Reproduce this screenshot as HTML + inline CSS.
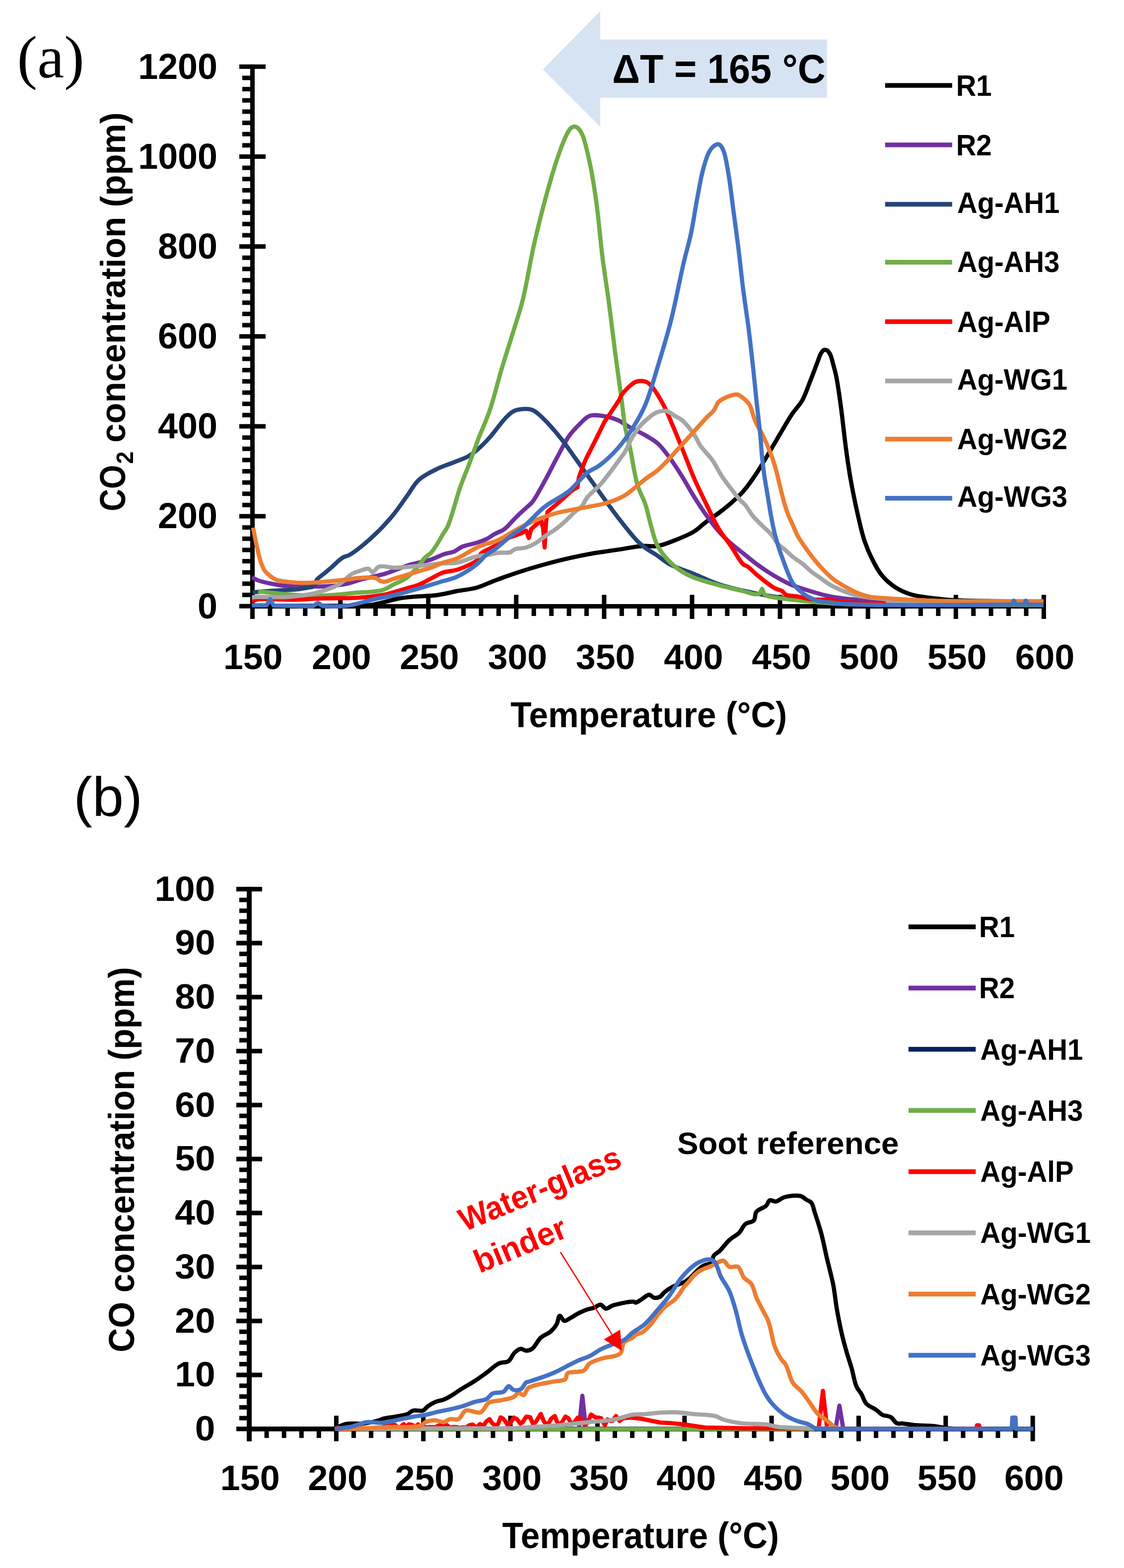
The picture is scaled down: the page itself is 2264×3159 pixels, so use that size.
<!DOCTYPE html>
<html><head><meta charset="utf-8"><title>CO2 and CO concentration vs temperature</title>
<style>html,body{margin:0;padding:0;background:#fff;}svg{display:block;}</style>
</head><body>
<svg xmlns="http://www.w3.org/2000/svg" width="2264" height="3159" viewBox="0 0 2264 3159">
<rect width="100%" height="100%" fill="#fff"/>
<rect x="504.00" y="129.80" width="9.00" height="1117.00" fill="#000"/>
<rect x="482.00" y="1216.70" width="53.00" height="9.00" fill="#000"/>
<rect x="482.00" y="1035.55" width="53.00" height="9.00" fill="#000"/>
<rect x="482.00" y="854.40" width="53.00" height="9.00" fill="#000"/>
<rect x="482.00" y="673.25" width="53.00" height="9.00" fill="#000"/>
<rect x="482.00" y="492.10" width="53.00" height="9.00" fill="#000"/>
<rect x="482.00" y="310.95" width="53.00" height="9.00" fill="#000"/>
<rect x="482.00" y="129.80" width="53.00" height="9.00" fill="#000"/>
<rect x="488.00" y="1194.06" width="16.00" height="9.00" fill="#000"/>
<rect x="488.00" y="1171.41" width="16.00" height="9.00" fill="#000"/>
<rect x="488.00" y="1148.77" width="16.00" height="9.00" fill="#000"/>
<rect x="488.00" y="1126.12" width="16.00" height="9.00" fill="#000"/>
<rect x="488.00" y="1103.48" width="16.00" height="9.00" fill="#000"/>
<rect x="488.00" y="1080.84" width="16.00" height="9.00" fill="#000"/>
<rect x="488.00" y="1058.19" width="16.00" height="9.00" fill="#000"/>
<rect x="488.00" y="1012.91" width="16.00" height="9.00" fill="#000"/>
<rect x="488.00" y="990.26" width="16.00" height="9.00" fill="#000"/>
<rect x="488.00" y="967.62" width="16.00" height="9.00" fill="#000"/>
<rect x="488.00" y="944.98" width="16.00" height="9.00" fill="#000"/>
<rect x="488.00" y="922.33" width="16.00" height="9.00" fill="#000"/>
<rect x="488.00" y="899.69" width="16.00" height="9.00" fill="#000"/>
<rect x="488.00" y="877.04" width="16.00" height="9.00" fill="#000"/>
<rect x="488.00" y="831.76" width="16.00" height="9.00" fill="#000"/>
<rect x="488.00" y="809.11" width="16.00" height="9.00" fill="#000"/>
<rect x="488.00" y="786.47" width="16.00" height="9.00" fill="#000"/>
<rect x="488.00" y="763.83" width="16.00" height="9.00" fill="#000"/>
<rect x="488.00" y="741.18" width="16.00" height="9.00" fill="#000"/>
<rect x="488.00" y="718.54" width="16.00" height="9.00" fill="#000"/>
<rect x="488.00" y="695.89" width="16.00" height="9.00" fill="#000"/>
<rect x="488.00" y="650.61" width="16.00" height="9.00" fill="#000"/>
<rect x="488.00" y="627.96" width="16.00" height="9.00" fill="#000"/>
<rect x="488.00" y="605.32" width="16.00" height="9.00" fill="#000"/>
<rect x="488.00" y="582.67" width="16.00" height="9.00" fill="#000"/>
<rect x="488.00" y="560.03" width="16.00" height="9.00" fill="#000"/>
<rect x="488.00" y="537.39" width="16.00" height="9.00" fill="#000"/>
<rect x="488.00" y="514.74" width="16.00" height="9.00" fill="#000"/>
<rect x="488.00" y="469.46" width="16.00" height="9.00" fill="#000"/>
<rect x="488.00" y="446.81" width="16.00" height="9.00" fill="#000"/>
<rect x="488.00" y="424.17" width="16.00" height="9.00" fill="#000"/>
<rect x="488.00" y="401.52" width="16.00" height="9.00" fill="#000"/>
<rect x="488.00" y="378.88" width="16.00" height="9.00" fill="#000"/>
<rect x="488.00" y="356.24" width="16.00" height="9.00" fill="#000"/>
<rect x="488.00" y="333.59" width="16.00" height="9.00" fill="#000"/>
<rect x="488.00" y="288.31" width="16.00" height="9.00" fill="#000"/>
<rect x="488.00" y="265.66" width="16.00" height="9.00" fill="#000"/>
<rect x="488.00" y="243.02" width="16.00" height="9.00" fill="#000"/>
<rect x="488.00" y="220.38" width="16.00" height="9.00" fill="#000"/>
<rect x="488.00" y="197.73" width="16.00" height="9.00" fill="#000"/>
<rect x="488.00" y="175.09" width="16.00" height="9.00" fill="#000"/>
<rect x="488.00" y="152.44" width="16.00" height="9.00" fill="#000"/>
<rect x="504.00" y="1217.00" width="1602.80" height="9.00" fill="#000"/>
<rect x="504.00" y="1198.40" width="9.00" height="48.50" fill="#000"/>
<rect x="681.10" y="1198.40" width="9.00" height="48.50" fill="#000"/>
<rect x="858.20" y="1198.40" width="9.00" height="48.50" fill="#000"/>
<rect x="1035.30" y="1198.40" width="9.00" height="48.50" fill="#000"/>
<rect x="1212.40" y="1198.40" width="9.00" height="48.50" fill="#000"/>
<rect x="1389.50" y="1198.40" width="9.00" height="48.50" fill="#000"/>
<rect x="1566.60" y="1198.40" width="9.00" height="48.50" fill="#000"/>
<rect x="1743.70" y="1198.40" width="9.00" height="48.50" fill="#000"/>
<rect x="1920.80" y="1198.40" width="9.00" height="48.50" fill="#000"/>
<rect x="2097.90" y="1198.40" width="9.00" height="48.50" fill="#000"/>
<rect x="539.42" y="1217.00" width="9.00" height="24.00" fill="#000"/>
<rect x="574.84" y="1217.00" width="9.00" height="24.00" fill="#000"/>
<rect x="610.26" y="1217.00" width="9.00" height="24.00" fill="#000"/>
<rect x="645.68" y="1217.00" width="9.00" height="24.00" fill="#000"/>
<rect x="716.52" y="1217.00" width="9.00" height="24.00" fill="#000"/>
<rect x="751.94" y="1217.00" width="9.00" height="24.00" fill="#000"/>
<rect x="787.36" y="1217.00" width="9.00" height="24.00" fill="#000"/>
<rect x="822.78" y="1217.00" width="9.00" height="24.00" fill="#000"/>
<rect x="893.62" y="1217.00" width="9.00" height="24.00" fill="#000"/>
<rect x="929.04" y="1217.00" width="9.00" height="24.00" fill="#000"/>
<rect x="964.46" y="1217.00" width="9.00" height="24.00" fill="#000"/>
<rect x="999.88" y="1217.00" width="9.00" height="24.00" fill="#000"/>
<rect x="1070.72" y="1217.00" width="9.00" height="24.00" fill="#000"/>
<rect x="1106.14" y="1217.00" width="9.00" height="24.00" fill="#000"/>
<rect x="1141.56" y="1217.00" width="9.00" height="24.00" fill="#000"/>
<rect x="1176.98" y="1217.00" width="9.00" height="24.00" fill="#000"/>
<rect x="1247.82" y="1217.00" width="9.00" height="24.00" fill="#000"/>
<rect x="1283.24" y="1217.00" width="9.00" height="24.00" fill="#000"/>
<rect x="1318.66" y="1217.00" width="9.00" height="24.00" fill="#000"/>
<rect x="1354.08" y="1217.00" width="9.00" height="24.00" fill="#000"/>
<rect x="1424.92" y="1217.00" width="9.00" height="24.00" fill="#000"/>
<rect x="1460.34" y="1217.00" width="9.00" height="24.00" fill="#000"/>
<rect x="1495.76" y="1217.00" width="9.00" height="24.00" fill="#000"/>
<rect x="1531.18" y="1217.00" width="9.00" height="24.00" fill="#000"/>
<rect x="1602.02" y="1217.00" width="9.00" height="24.00" fill="#000"/>
<rect x="1637.44" y="1217.00" width="9.00" height="24.00" fill="#000"/>
<rect x="1672.86" y="1217.00" width="9.00" height="24.00" fill="#000"/>
<rect x="1708.28" y="1217.00" width="9.00" height="24.00" fill="#000"/>
<rect x="1779.12" y="1217.00" width="9.00" height="24.00" fill="#000"/>
<rect x="1814.54" y="1217.00" width="9.00" height="24.00" fill="#000"/>
<rect x="1849.96" y="1217.00" width="9.00" height="24.00" fill="#000"/>
<rect x="1885.38" y="1217.00" width="9.00" height="24.00" fill="#000"/>
<rect x="1956.22" y="1217.00" width="9.00" height="24.00" fill="#000"/>
<rect x="1991.64" y="1217.00" width="9.00" height="24.00" fill="#000"/>
<rect x="2027.06" y="1217.00" width="9.00" height="24.00" fill="#000"/>
<rect x="2062.48" y="1217.00" width="9.00" height="24.00" fill="#000"/>
<rect x="497.00" y="1786.80" width="10.00" height="1116.70" fill="#000"/>
<rect x="476.00" y="2874.20" width="52.00" height="9.20" fill="#000"/>
<rect x="476.00" y="2765.45" width="52.00" height="9.20" fill="#000"/>
<rect x="476.00" y="2656.70" width="52.00" height="9.20" fill="#000"/>
<rect x="476.00" y="2547.95" width="52.00" height="9.20" fill="#000"/>
<rect x="476.00" y="2439.20" width="52.00" height="9.20" fill="#000"/>
<rect x="476.00" y="2330.45" width="52.00" height="9.20" fill="#000"/>
<rect x="476.00" y="2221.70" width="52.00" height="9.20" fill="#000"/>
<rect x="476.00" y="2112.95" width="52.00" height="9.20" fill="#000"/>
<rect x="476.00" y="2004.20" width="52.00" height="9.20" fill="#000"/>
<rect x="476.00" y="1895.45" width="52.00" height="9.20" fill="#000"/>
<rect x="476.00" y="1786.70" width="52.00" height="9.20" fill="#000"/>
<rect x="482.00" y="2852.55" width="15.50" height="9.00" fill="#000"/>
<rect x="482.00" y="2830.80" width="15.50" height="9.00" fill="#000"/>
<rect x="482.00" y="2809.05" width="15.50" height="9.00" fill="#000"/>
<rect x="482.00" y="2787.30" width="15.50" height="9.00" fill="#000"/>
<rect x="482.00" y="2743.80" width="15.50" height="9.00" fill="#000"/>
<rect x="482.00" y="2722.05" width="15.50" height="9.00" fill="#000"/>
<rect x="482.00" y="2700.30" width="15.50" height="9.00" fill="#000"/>
<rect x="482.00" y="2678.55" width="15.50" height="9.00" fill="#000"/>
<rect x="482.00" y="2635.05" width="15.50" height="9.00" fill="#000"/>
<rect x="482.00" y="2613.30" width="15.50" height="9.00" fill="#000"/>
<rect x="482.00" y="2591.55" width="15.50" height="9.00" fill="#000"/>
<rect x="482.00" y="2569.80" width="15.50" height="9.00" fill="#000"/>
<rect x="482.00" y="2526.30" width="15.50" height="9.00" fill="#000"/>
<rect x="482.00" y="2504.55" width="15.50" height="9.00" fill="#000"/>
<rect x="482.00" y="2482.80" width="15.50" height="9.00" fill="#000"/>
<rect x="482.00" y="2461.05" width="15.50" height="9.00" fill="#000"/>
<rect x="482.00" y="2417.55" width="15.50" height="9.00" fill="#000"/>
<rect x="482.00" y="2395.80" width="15.50" height="9.00" fill="#000"/>
<rect x="482.00" y="2374.05" width="15.50" height="9.00" fill="#000"/>
<rect x="482.00" y="2352.30" width="15.50" height="9.00" fill="#000"/>
<rect x="482.00" y="2308.80" width="15.50" height="9.00" fill="#000"/>
<rect x="482.00" y="2287.05" width="15.50" height="9.00" fill="#000"/>
<rect x="482.00" y="2265.30" width="15.50" height="9.00" fill="#000"/>
<rect x="482.00" y="2243.55" width="15.50" height="9.00" fill="#000"/>
<rect x="482.00" y="2200.05" width="15.50" height="9.00" fill="#000"/>
<rect x="482.00" y="2178.30" width="15.50" height="9.00" fill="#000"/>
<rect x="482.00" y="2156.55" width="15.50" height="9.00" fill="#000"/>
<rect x="482.00" y="2134.80" width="15.50" height="9.00" fill="#000"/>
<rect x="482.00" y="2091.30" width="15.50" height="9.00" fill="#000"/>
<rect x="482.00" y="2069.55" width="15.50" height="9.00" fill="#000"/>
<rect x="482.00" y="2047.80" width="15.50" height="9.00" fill="#000"/>
<rect x="482.00" y="2026.05" width="15.50" height="9.00" fill="#000"/>
<rect x="482.00" y="1982.55" width="15.50" height="9.00" fill="#000"/>
<rect x="482.00" y="1960.80" width="15.50" height="9.00" fill="#000"/>
<rect x="482.00" y="1939.05" width="15.50" height="9.00" fill="#000"/>
<rect x="482.00" y="1917.30" width="15.50" height="9.00" fill="#000"/>
<rect x="482.00" y="1873.80" width="15.50" height="9.00" fill="#000"/>
<rect x="482.00" y="1852.05" width="15.50" height="9.00" fill="#000"/>
<rect x="482.00" y="1830.30" width="15.50" height="9.00" fill="#000"/>
<rect x="482.00" y="1808.55" width="15.50" height="9.00" fill="#000"/>
<rect x="497.00" y="2874.00" width="1587.80" height="9.70" fill="#000"/>
<rect x="497.50" y="2852.20" width="9.00" height="51.40" fill="#000"/>
<rect x="672.86" y="2852.20" width="9.00" height="51.40" fill="#000"/>
<rect x="848.21" y="2852.20" width="9.00" height="51.40" fill="#000"/>
<rect x="1023.57" y="2852.20" width="9.00" height="51.40" fill="#000"/>
<rect x="1198.92" y="2852.20" width="9.00" height="51.40" fill="#000"/>
<rect x="1374.28" y="2852.20" width="9.00" height="51.40" fill="#000"/>
<rect x="1549.63" y="2852.20" width="9.00" height="51.40" fill="#000"/>
<rect x="1724.99" y="2852.20" width="9.00" height="51.40" fill="#000"/>
<rect x="1900.34" y="2852.20" width="9.00" height="51.40" fill="#000"/>
<rect x="2075.70" y="2852.20" width="9.00" height="51.40" fill="#000"/>
<rect x="532.57" y="2874.00" width="9.00" height="23.00" fill="#000"/>
<rect x="567.64" y="2874.00" width="9.00" height="23.00" fill="#000"/>
<rect x="602.71" y="2874.00" width="9.00" height="23.00" fill="#000"/>
<rect x="637.78" y="2874.00" width="9.00" height="23.00" fill="#000"/>
<rect x="707.93" y="2874.00" width="9.00" height="23.00" fill="#000"/>
<rect x="743.00" y="2874.00" width="9.00" height="23.00" fill="#000"/>
<rect x="778.07" y="2874.00" width="9.00" height="23.00" fill="#000"/>
<rect x="813.14" y="2874.00" width="9.00" height="23.00" fill="#000"/>
<rect x="883.28" y="2874.00" width="9.00" height="23.00" fill="#000"/>
<rect x="918.35" y="2874.00" width="9.00" height="23.00" fill="#000"/>
<rect x="953.42" y="2874.00" width="9.00" height="23.00" fill="#000"/>
<rect x="988.50" y="2874.00" width="9.00" height="23.00" fill="#000"/>
<rect x="1058.64" y="2874.00" width="9.00" height="23.00" fill="#000"/>
<rect x="1093.71" y="2874.00" width="9.00" height="23.00" fill="#000"/>
<rect x="1128.78" y="2874.00" width="9.00" height="23.00" fill="#000"/>
<rect x="1163.85" y="2874.00" width="9.00" height="23.00" fill="#000"/>
<rect x="1233.99" y="2874.00" width="9.00" height="23.00" fill="#000"/>
<rect x="1269.06" y="2874.00" width="9.00" height="23.00" fill="#000"/>
<rect x="1304.14" y="2874.00" width="9.00" height="23.00" fill="#000"/>
<rect x="1339.21" y="2874.00" width="9.00" height="23.00" fill="#000"/>
<rect x="1409.35" y="2874.00" width="9.00" height="23.00" fill="#000"/>
<rect x="1444.42" y="2874.00" width="9.00" height="23.00" fill="#000"/>
<rect x="1479.49" y="2874.00" width="9.00" height="23.00" fill="#000"/>
<rect x="1514.56" y="2874.00" width="9.00" height="23.00" fill="#000"/>
<rect x="1584.70" y="2874.00" width="9.00" height="23.00" fill="#000"/>
<rect x="1619.78" y="2874.00" width="9.00" height="23.00" fill="#000"/>
<rect x="1654.85" y="2874.00" width="9.00" height="23.00" fill="#000"/>
<rect x="1689.92" y="2874.00" width="9.00" height="23.00" fill="#000"/>
<rect x="1760.06" y="2874.00" width="9.00" height="23.00" fill="#000"/>
<rect x="1795.13" y="2874.00" width="9.00" height="23.00" fill="#000"/>
<rect x="1830.20" y="2874.00" width="9.00" height="23.00" fill="#000"/>
<rect x="1865.27" y="2874.00" width="9.00" height="23.00" fill="#000"/>
<rect x="1935.42" y="2874.00" width="9.00" height="23.00" fill="#000"/>
<rect x="1970.49" y="2874.00" width="9.00" height="23.00" fill="#000"/>
<rect x="2005.56" y="2874.00" width="9.00" height="23.00" fill="#000"/>
<rect x="2040.63" y="2874.00" width="9.00" height="23.00" fill="#000"/>
<path d="M508.0,1220.6 C538.7,1220.6 568.7,1220.6 600.0,1220.6 C632.6,1220.6 673.1,1220.7 700.0,1220.3 C718.3,1220.0 729.8,1221.1 746.0,1219.0 C764.8,1216.6 788.3,1208.1 806.0,1205.2 C819.7,1202.9 830.7,1202.5 843.0,1201.5 C855.3,1200.5 867.5,1200.7 880.0,1199.0 C893.1,1197.3 906.7,1193.5 920.0,1191.0 C933.3,1188.5 947.0,1187.6 960.0,1184.0 C973.1,1180.3 984.8,1174.1 998.5,1169.0 C1013.9,1163.3 1031.2,1157.0 1047.7,1151.7 C1064.1,1146.4 1080.5,1141.5 1097.0,1137.0 C1113.3,1132.5 1129.6,1128.3 1146.0,1124.6 C1162.3,1120.9 1178.5,1117.7 1195.0,1114.8 C1211.5,1111.9 1228.4,1109.9 1245.0,1107.4 C1261.4,1104.9 1279.5,1101.1 1294.0,1100.0 C1305.4,1099.1 1314.1,1101.7 1324.6,1100.0 C1336.5,1098.1 1349.3,1092.5 1361.5,1087.7 C1374.0,1082.7 1387.8,1077.2 1398.5,1070.5 C1407.9,1064.7 1414.7,1057.0 1423.0,1050.8 C1431.1,1044.7 1439.6,1039.6 1447.7,1033.5 C1456.0,1027.3 1464.3,1020.9 1472.3,1013.8 C1480.7,1006.4 1489.1,998.9 1497.0,990.0 C1505.6,980.2 1513.6,968.7 1521.5,957.0 C1530.0,944.5 1538.1,930.5 1546.2,917.0 C1554.5,903.2 1562.6,888.9 1570.8,875.0 C1579.0,861.3 1587.3,846.3 1595.4,834.2 C1602.2,824.0 1609.9,817.2 1615.7,807.0 C1622.1,795.8 1626.3,782.2 1631.4,769.3 C1636.7,756.0 1643.0,738.9 1647.0,728.5 C1649.5,722.1 1650.6,717.2 1653.0,713.0 C1654.9,709.7 1657.1,705.9 1659.6,705.0 C1661.6,704.3 1664.1,704.9 1666.0,706.0 C1668.4,707.4 1670.4,710.6 1672.2,714.0 C1674.7,718.8 1676.1,726.1 1678.0,733.0 C1680.3,741.2 1682.5,749.0 1684.7,759.9 C1688.0,776.4 1691.2,800.5 1694.2,822.6 C1697.5,847.3 1700.3,876.3 1703.6,901.0 C1706.6,923.1 1709.4,943.0 1713.0,963.9 C1716.7,984.9 1720.8,1005.7 1725.5,1026.6 C1730.2,1047.6 1735.2,1071.3 1741.2,1089.4 C1746.0,1103.7 1751.0,1115.2 1757.0,1127.0 C1762.6,1138.2 1768.0,1149.1 1775.8,1158.5 C1783.7,1168.0 1793.8,1177.0 1804.0,1183.6 C1813.7,1189.9 1823.6,1194.1 1835.4,1197.7 C1849.3,1201.9 1868.3,1203.6 1882.5,1205.5 C1894.0,1207.0 1900.9,1207.9 1914.0,1208.7 C1935.6,1210.1 1970.1,1210.5 2000.0,1211.0 C2032.5,1211.6 2068.0,1211.7 2102.0,1212.0" fill="none" stroke="#000000" stroke-width="8.50" stroke-linejoin="round" stroke-linecap="butt"/>
<path d="M507.4,1162.8 C511.6,1165.0 515.0,1167.5 520.0,1169.4 C526.7,1171.9 536.4,1173.8 544.6,1175.5 C552.8,1177.2 561.0,1178.9 569.2,1179.8 C577.4,1180.7 585.6,1180.8 593.8,1181.0 C602.0,1181.2 610.3,1180.9 618.5,1181.0 C626.7,1181.1 634.8,1181.8 643.0,1181.7 C651.2,1181.6 659.5,1181.2 667.7,1180.5 C675.9,1179.8 685.8,1178.5 692.3,1177.4 C696.7,1176.6 698.8,1176.2 703.2,1175.0 C710.0,1173.2 721.2,1169.1 729.0,1167.0 C735.3,1165.3 739.6,1164.6 746.2,1163.0 C755.0,1160.9 767.6,1158.3 777.0,1155.4 C785.3,1152.9 792.3,1149.8 800.0,1147.0 C807.7,1144.2 815.3,1140.8 823.0,1138.5 C830.6,1136.2 838.3,1134.9 846.0,1133.0 C853.7,1131.1 861.5,1129.6 869.2,1127.0 C877.2,1124.3 885.1,1119.7 893.0,1117.0 C900.5,1114.4 908.8,1113.6 915.4,1110.8 C921.2,1108.3 924.6,1104.1 930.8,1101.5 C938.8,1098.1 951.4,1096.2 960.0,1093.5 C966.9,1091.3 972.5,1089.6 978.5,1086.7 C984.8,1083.7 990.8,1079.0 997.0,1075.6 C1003.1,1072.2 1009.7,1070.5 1015.6,1066.3 C1022.2,1061.6 1028.5,1053.3 1034.0,1047.8 C1038.5,1043.3 1042.1,1039.5 1046.4,1035.4 C1050.8,1031.2 1055.6,1027.1 1060.0,1023.0 C1064.2,1019.1 1067.9,1016.9 1072.3,1011.4 C1079.7,1002.1 1089.0,983.9 1097.0,969.5 C1105.4,954.5 1113.2,938.1 1121.5,922.8 C1129.6,907.8 1137.8,890.4 1146.2,878.5 C1152.6,869.4 1158.8,863.1 1165.8,856.3 C1172.7,849.6 1179.3,840.8 1188.0,837.8 C1197.2,834.7 1210.1,837.3 1220.0,839.0 C1228.8,840.5 1236.6,843.0 1244.6,846.5 C1253.0,850.2 1260.5,856.4 1269.2,861.2 C1278.8,866.5 1290.4,871.4 1300.0,877.0 C1308.8,882.1 1316.9,886.3 1324.6,893.2 C1333.4,901.1 1341.3,912.2 1349.2,922.8 C1357.7,934.2 1365.8,946.9 1373.8,959.7 C1382.2,973.1 1390.1,988.1 1398.5,1001.5 C1406.5,1014.3 1414.6,1026.8 1423.0,1038.5 C1431.0,1049.7 1439.1,1060.8 1447.7,1070.5 C1455.6,1079.5 1463.9,1087.5 1472.3,1095.0 C1480.3,1102.2 1488.8,1108.2 1497.0,1114.8 C1505.2,1121.4 1513.2,1128.3 1521.5,1134.5 C1529.6,1140.6 1537.9,1146.3 1546.2,1151.7 C1554.3,1157.0 1562.5,1161.9 1570.8,1166.5 C1578.9,1171.0 1586.2,1175.0 1595.4,1178.8 C1606.3,1183.3 1619.9,1187.3 1632.3,1191.0 C1644.5,1194.7 1657.4,1198.5 1669.2,1201.0 C1679.9,1203.3 1688.5,1204.4 1700.0,1205.8 C1714.6,1207.6 1733.3,1208.8 1750.0,1210.0 C1766.7,1211.2 1776.3,1212.2 1800.0,1213.0 C1858.2,1214.9 2001.3,1214.3 2102.0,1215.0" fill="none" stroke="#7030A0" stroke-width="8.50" stroke-linejoin="round" stroke-linecap="butt"/>
<path d="M508.9,1193.5 C518.3,1192.7 527.3,1191.7 537.0,1191.0 C547.4,1190.2 559.2,1189.6 569.2,1189.0 C577.9,1188.5 585.6,1188.6 593.8,1187.8 C602.0,1187.0 611.5,1185.5 618.5,1184.2 C623.7,1183.2 628.7,1183.7 632.0,1181.0 C635.5,1178.2 635.5,1171.4 638.6,1167.4 C641.9,1163.2 647.2,1160.2 651.5,1156.6 C655.8,1153.0 659.4,1150.1 664.5,1145.8 C671.8,1139.6 683.3,1127.4 690.8,1123.0 C695.4,1120.3 698.3,1121.0 703.0,1118.5 C710.6,1114.5 721.5,1106.0 730.8,1098.5 C741.0,1090.3 751.5,1080.8 761.5,1070.8 C772.0,1060.3 782.6,1048.9 792.3,1037.0 C802.1,1025.0 811.1,1011.1 820.0,999.0 C828.2,987.8 834.0,975.6 843.8,966.7 C853.8,957.6 867.3,951.2 879.5,945.2 C891.2,939.4 904.0,935.6 915.2,931.0 C925.3,926.9 935.5,923.7 943.8,919.0 C951.1,914.8 956.4,910.4 962.9,904.8 C970.6,898.1 978.5,890.1 986.7,881.0 C996.6,870.0 1008.5,852.3 1017.6,842.9 C1023.7,836.6 1027.8,831.8 1034.3,828.6 C1041.1,825.3 1051.1,824.0 1058.0,823.8 C1063.4,823.7 1067.9,824.3 1072.3,826.0 C1076.8,827.7 1080.0,830.4 1084.6,834.2 C1091.6,840.0 1101.2,850.0 1109.2,858.8 C1117.6,868.0 1125.8,877.9 1133.8,888.3 C1142.2,899.2 1150.3,911.3 1158.5,922.8 C1166.7,934.3 1174.8,945.7 1183.0,957.2 C1191.2,968.7 1199.5,980.2 1207.7,991.7 C1215.9,1003.2 1224.0,1014.8 1232.3,1026.0 C1240.4,1037.0 1248.5,1047.6 1257.0,1058.2 C1265.7,1069.0 1275.9,1082.0 1284.0,1090.2 C1289.8,1096.0 1293.9,1099.5 1300.0,1104.0 C1307.2,1109.3 1316.5,1114.2 1324.6,1119.7 C1332.9,1125.2 1339.2,1131.6 1349.2,1137.0 C1362.5,1144.2 1382.1,1149.9 1398.5,1156.6 C1414.9,1163.3 1431.1,1171.4 1447.7,1177.0 C1463.9,1182.5 1480.5,1186.2 1497.0,1190.0 C1513.4,1193.8 1529.6,1197.1 1546.2,1200.0 C1563.1,1202.9 1577.6,1205.1 1597.7,1207.4 C1626.0,1210.6 1654.6,1213.7 1700.0,1215.7 C1789.8,1219.7 1968.0,1217.9 2102.0,1219.0" fill="none" stroke="#264478" stroke-width="8.50" stroke-linejoin="round" stroke-linecap="butt"/>
<path d="M520.0,1191.5 C528.2,1192.3 535.6,1193.1 544.6,1194.0 C555.7,1195.1 567.6,1196.7 581.5,1197.7 C599.4,1199.0 621.4,1200.6 643.0,1200.2 C667.2,1199.7 697.2,1196.0 720.0,1194.0 C738.2,1192.4 755.9,1193.0 769.2,1189.2 C779.1,1186.4 785.6,1181.1 793.8,1177.0 C802.0,1172.9 810.7,1170.2 818.5,1164.6 C827.2,1158.3 836.4,1147.5 843.0,1140.0 C848.0,1134.3 851.0,1128.5 855.4,1124.0 C859.3,1120.1 863.9,1118.2 867.7,1114.2 C872.2,1109.5 876.0,1103.1 880.0,1097.0 C884.3,1090.4 888.4,1082.5 892.3,1076.0 C895.7,1070.3 898.5,1067.6 902.0,1060.0 C909.3,1043.9 919.1,1003.7 927.1,981.0 C933.3,963.5 939.1,950.6 945.0,935.0 C951.1,918.9 956.4,902.9 962.9,885.7 C970.1,866.7 979.3,847.9 986.7,826.2 C995.3,801.0 1002.4,770.0 1010.5,742.9 C1018.3,716.9 1026.9,690.9 1034.3,666.7 C1041.0,644.8 1047.0,628.0 1053.0,604.0 C1060.9,572.6 1067.3,529.6 1075.4,493.8 C1083.2,459.4 1091.7,425.1 1100.5,393.3 C1108.5,364.2 1117.8,332.5 1125.6,310.4 C1130.9,295.3 1136.1,282.0 1140.7,272.7 C1143.6,266.9 1145.8,261.9 1149.0,259.0 C1151.4,256.8 1154.3,255.1 1157.0,255.1 C1159.7,255.1 1162.6,256.8 1165.0,259.0 C1168.2,261.9 1170.7,266.3 1173.4,272.7 C1178.7,285.1 1184.0,309.9 1188.4,330.5 C1193.4,353.9 1197.1,378.2 1201.0,405.9 C1205.7,439.7 1209.1,483.7 1213.6,519.0 C1217.6,550.2 1222.0,576.6 1226.1,606.9 C1230.4,639.3 1234.4,674.6 1238.7,707.4 C1242.8,738.9 1247.6,772.1 1251.3,799.8 C1254.3,822.3 1256.0,842.8 1259.4,861.2 C1262.2,876.5 1265.7,887.1 1269.2,903.0 C1273.8,924.1 1277.8,956.4 1284.0,977.0 C1288.6,992.4 1295.4,1002.5 1300.0,1016.3 C1304.9,1031.0 1308.0,1048.4 1312.3,1063.0 C1316.2,1076.1 1318.5,1088.6 1324.6,1100.0 C1330.8,1111.6 1340.4,1123.1 1349.2,1132.0 C1357.0,1139.9 1365.3,1146.3 1373.8,1151.7 C1381.8,1156.8 1388.7,1160.1 1398.5,1164.0 C1411.9,1169.3 1431.2,1174.3 1447.7,1178.8 C1464.1,1183.3 1483.4,1187.6 1497.0,1191.0 C1506.6,1193.4 1515.4,1196.9 1521.5,1197.2 C1525.0,1197.4 1530.0,1196.0 1530.0,1196.0 C1530.0,1196.0 1535.0,1186.2 1535.0,1186.2 C1535.0,1186.2 1540.0,1198.0 1540.0,1198.0 C1540.0,1198.0 1543.0,1200.0 1546.2,1201.0 C1554.7,1203.6 1579.0,1206.3 1595.4,1208.3 C1611.8,1210.3 1627.7,1211.8 1644.6,1213.2 C1662.5,1214.7 1673.0,1216.0 1700.0,1217.0 C1772.5,1219.7 1968.0,1218.3 2102.0,1219.0" fill="none" stroke="#70AD47" stroke-width="8.50" stroke-linejoin="round" stroke-linecap="butt"/>
<path d="M507.4,1210.8 C511.6,1209.7 514.0,1208.2 520.0,1207.5 C534.3,1205.7 571.7,1208.7 593.8,1208.2 C611.9,1207.8 624.8,1206.3 643.0,1205.7 C665.8,1204.9 697.2,1205.7 720.0,1204.3 C738.3,1203.2 752.9,1202.1 769.2,1199.0 C785.8,1195.9 804.9,1189.4 818.5,1185.5 C828.1,1182.8 835.0,1181.4 843.0,1178.2 C851.4,1174.9 859.5,1169.9 867.7,1165.8 C875.9,1161.7 883.6,1156.5 892.3,1153.5 C901.1,1150.5 911.1,1150.6 920.0,1148.0 C928.7,1145.4 937.6,1141.6 945.0,1138.0 C951.3,1134.9 957.9,1132.2 962.0,1128.0 C965.5,1124.3 965.5,1118.6 969.0,1115.0 C972.9,1111.0 980.0,1108.6 985.0,1106.0 C989.3,1103.7 993.0,1102.2 997.0,1100.0 C1001.1,1097.8 1005.3,1095.3 1009.4,1092.8 C1013.5,1090.3 1016.7,1087.3 1021.7,1084.8 C1028.6,1081.4 1040.7,1078.5 1047.7,1075.4 C1052.6,1073.2 1060.0,1069.0 1060.0,1069.0 C1060.0,1069.0 1065.0,1084.0 1065.0,1084.0 C1065.0,1084.0 1070.0,1066.0 1070.0,1066.0 C1070.0,1066.0 1090.0,1048.0 1090.0,1048.0 C1090.0,1048.0 1094.0,1065.0 1094.0,1065.0 C1094.0,1065.0 1097.0,1103.0 1097.0,1103.0 C1097.0,1103.0 1100.0,1050.0 1100.0,1050.0 C1100.0,1050.0 1103.0,1031.0 1103.0,1031.0 C1103.0,1031.0 1109.4,1025.8 1112.9,1022.8 C1117.0,1019.4 1121.7,1015.4 1126.1,1011.6 C1130.6,1007.7 1135.0,1003.6 1139.4,999.7 C1143.8,995.8 1148.3,991.1 1152.6,988.0 C1156.1,985.4 1163.0,982.0 1163.0,982.0 C1163.0,982.0 1166.0,962.0 1166.0,962.0 C1166.0,962.0 1174.6,937.7 1178.8,928.0 C1182.1,920.4 1185.3,914.9 1188.6,908.3 C1191.9,901.7 1195.2,895.2 1198.5,888.6 C1201.8,882.0 1205.0,875.5 1208.3,868.9 C1211.6,862.3 1214.7,855.2 1218.2,849.2 C1221.3,843.8 1224.7,839.4 1228.0,834.5 C1231.3,829.6 1234.6,824.6 1237.9,819.7 C1241.2,814.8 1245.3,809.1 1247.7,804.9 C1249.3,801.9 1249.4,800.0 1251.3,797.0 C1254.4,792.2 1260.9,784.8 1266.0,780.0 C1270.5,775.8 1275.3,771.5 1280.0,769.5 C1283.8,767.8 1287.7,767.4 1291.5,767.5 C1295.3,767.6 1299.6,768.4 1303.0,770.0 C1306.3,771.6 1308.3,773.3 1311.6,777.0 C1318.4,784.6 1329.5,803.0 1337.0,817.0 C1344.5,831.1 1350.4,846.6 1356.6,861.2 C1362.6,875.3 1367.6,887.7 1373.8,903.0 C1381.3,921.5 1390.0,945.1 1398.5,964.6 C1406.4,982.7 1414.7,999.3 1423.0,1016.3 C1431.1,1033.0 1438.9,1050.9 1447.7,1065.5 C1455.4,1078.3 1464.2,1088.2 1472.3,1100.0 C1480.6,1112.1 1490.2,1131.1 1497.0,1137.0 C1500.1,1139.7 1502.2,1138.9 1505.4,1141.0 C1510.6,1144.4 1517.6,1152.2 1523.8,1157.5 C1529.9,1162.7 1536.1,1167.6 1542.3,1172.3 C1548.4,1176.9 1554.8,1182.0 1560.8,1185.2 C1565.8,1187.9 1571.6,1188.3 1575.5,1190.8 C1578.6,1192.8 1579.3,1196.3 1582.9,1198.1 C1588.3,1200.8 1598.6,1200.3 1606.9,1201.8 C1615.8,1203.4 1624.7,1206.3 1634.6,1207.4 C1646.0,1208.7 1660.0,1207.4 1671.5,1208.5 C1681.6,1209.5 1684.9,1211.9 1700.0,1213.2 C1756.3,1217.9 1968.0,1213.7 2102.0,1214.0" fill="none" stroke="#FF0000" stroke-width="8.50" stroke-linejoin="round" stroke-linecap="butt"/>
<path d="M507.4,1203.4 C511.6,1203.1 514.2,1202.8 520.0,1202.6 C532.8,1202.2 562.2,1203.9 581.5,1202.6 C598.9,1201.4 618.8,1198.4 630.8,1196.0 C637.8,1194.6 641.7,1193.2 647.2,1191.5 C652.9,1189.7 658.8,1187.7 664.5,1185.5 C670.3,1183.2 676.5,1181.0 681.7,1178.0 C686.6,1175.1 690.7,1171.5 695.0,1168.0 C699.3,1164.5 702.7,1160.0 707.5,1157.0 C712.6,1153.9 719.1,1151.9 725.0,1150.0 C730.6,1148.2 737.5,1144.8 742.0,1145.8 C745.6,1146.6 747.5,1152.8 750.6,1152.7 C754.5,1152.6 757.8,1143.4 763.5,1141.5 C771.1,1139.0 783.2,1143.7 793.8,1143.7 C805.5,1143.7 819.7,1142.1 830.8,1141.2 C839.8,1140.5 846.4,1139.7 855.4,1138.8 C866.5,1137.7 880.9,1135.8 892.3,1135.0 C902.2,1134.3 910.0,1135.6 920.0,1133.8 C932.2,1131.6 948.2,1123.9 960.0,1121.2 C969.1,1119.1 977.1,1118.8 984.7,1117.5 C991.3,1116.3 996.6,1114.6 1003.2,1113.8 C1010.8,1112.9 1021.8,1114.6 1027.9,1112.6 C1032.0,1111.3 1033.2,1107.9 1037.2,1106.4 C1042.9,1104.2 1052.8,1105.2 1060.0,1103.0 C1067.0,1100.9 1073.4,1097.4 1079.8,1093.6 C1086.6,1089.5 1093.0,1083.7 1099.7,1079.0 C1106.3,1074.4 1113.0,1070.6 1119.5,1065.8 C1126.3,1060.8 1132.8,1055.2 1139.4,1049.3 C1146.3,1043.1 1154.1,1034.5 1160.0,1029.4 C1164.1,1025.9 1167.4,1024.9 1170.8,1021.2 C1175.4,1016.2 1178.2,1007.7 1183.7,1001.0 C1190.2,993.0 1200.8,985.4 1208.3,977.2 C1215.5,969.3 1221.5,961.0 1228.0,952.6 C1234.6,944.0 1242.0,934.0 1247.7,926.0 C1252.3,919.5 1256.1,914.9 1260.0,908.3 C1264.6,900.5 1268.2,890.2 1273.0,882.0 C1277.5,874.2 1282.5,866.4 1287.8,860.0 C1292.5,854.3 1297.1,849.9 1302.6,845.2 C1308.5,840.2 1315.4,833.8 1322.3,831.0 C1328.5,828.5 1335.5,826.9 1341.8,828.0 C1348.6,829.2 1355.7,835.6 1361.5,839.0 C1366.1,841.7 1369.3,842.7 1373.8,846.5 C1381.1,852.8 1392.0,866.6 1398.5,876.0 C1403.8,883.7 1405.5,890.5 1410.8,898.2 C1417.3,907.6 1428.3,917.6 1435.4,927.7 C1442.1,937.3 1446.4,947.7 1452.6,957.2 C1458.7,966.6 1465.6,975.5 1472.3,984.3 C1478.8,992.8 1486.7,1003.4 1492.0,1009.0 C1495.1,1012.2 1497.0,1012.7 1500.0,1016.0 C1505.0,1021.6 1511.4,1033.6 1517.6,1041.0 C1523.2,1047.7 1529.4,1053.1 1535.3,1059.0 C1541.1,1064.8 1547.5,1069.8 1552.9,1076.0 C1558.4,1082.4 1563.0,1091.7 1568.0,1097.0 C1571.7,1100.9 1575.1,1102.3 1579.2,1105.8 C1584.7,1110.4 1591.4,1117.5 1597.7,1122.5 C1603.7,1127.3 1610.1,1130.6 1616.1,1135.4 C1622.4,1140.4 1628.3,1147.0 1634.6,1152.0 C1640.6,1156.8 1646.9,1160.6 1653.0,1164.9 C1659.2,1169.2 1665.2,1174.0 1671.5,1177.8 C1677.5,1181.4 1683.8,1184.3 1690.0,1187.1 C1696.1,1189.8 1702.2,1192.3 1708.4,1194.5 C1714.5,1196.6 1720.3,1198.5 1726.9,1200.0 C1734.1,1201.6 1741.3,1202.4 1750.0,1203.7 C1761.2,1205.4 1785.6,1205.9 1788.3,1209.0 C1789.0,1209.8 1787.4,1210.9 1788.3,1211.8 C1797.3,1220.9 1997.4,1213.9 2102.0,1215.0" fill="none" stroke="#A5A5A5" stroke-width="8.50" stroke-linejoin="round" stroke-linecap="butt"/>
<path d="M509.8,1063.1 C512.3,1075.4 514.6,1088.4 517.2,1100.0 C519.6,1110.5 521.7,1121.3 524.6,1130.0 C526.9,1137.0 528.8,1143.2 532.3,1148.5 C535.6,1153.4 540.3,1157.4 544.6,1160.8 C548.5,1163.9 552.0,1166.3 557.0,1168.2 C563.6,1170.7 573.3,1171.5 581.5,1172.5 C589.7,1173.5 598.0,1174.1 606.2,1174.3 C614.4,1174.5 622.6,1174.1 630.8,1173.7 C639.0,1173.3 647.2,1172.5 655.4,1171.8 C663.6,1171.1 671.8,1170.2 680.0,1169.4 C688.2,1168.6 697.4,1167.9 704.6,1167.0 C710.3,1166.3 713.7,1165.1 720.0,1164.6 C729.7,1163.9 748.8,1162.2 757.0,1164.6 C761.6,1165.9 763.5,1169.6 766.8,1170.8 C769.6,1171.8 772.0,1172.3 775.4,1172.0 C780.4,1171.5 787.2,1167.9 793.8,1165.8 C801.4,1163.4 810.3,1161.0 818.5,1158.5 C826.7,1156.0 834.8,1153.5 843.0,1151.0 C851.2,1148.5 859.5,1146.5 867.7,1143.7 C876.0,1140.8 883.8,1136.8 892.3,1133.8 C901.2,1130.6 910.1,1129.4 920.0,1125.2 C932.4,1120.0 949.1,1108.4 960.0,1103.3 C967.2,1099.9 972.3,1098.1 978.5,1096.0 C984.6,1094.0 990.9,1093.3 997.0,1091.0 C1003.3,1088.6 1010.1,1084.7 1015.6,1081.7 C1020.2,1079.2 1023.2,1077.0 1027.9,1074.3 C1034.1,1070.7 1041.3,1066.2 1049.5,1062.0 C1059.7,1056.8 1072.6,1050.5 1084.6,1045.8 C1096.6,1041.0 1108.2,1037.0 1121.5,1033.5 C1136.6,1029.5 1154.4,1027.0 1170.8,1023.7 C1187.2,1020.4 1205.0,1018.3 1220.0,1013.8 C1233.4,1009.8 1244.7,1006.1 1257.0,999.0 C1271.4,990.7 1287.6,974.4 1300.0,965.0 C1309.2,958.0 1316.7,954.1 1324.6,947.4 C1333.1,940.2 1341.1,931.3 1349.2,922.8 C1357.5,914.1 1365.6,904.7 1373.8,895.7 C1382.0,886.7 1390.3,877.6 1398.5,868.6 C1406.7,859.6 1415.8,849.1 1423.0,841.5 C1428.5,835.8 1433.7,832.2 1437.8,826.8 C1441.9,821.5 1443.0,814.1 1447.7,809.5 C1452.7,804.6 1460.9,801.0 1467.4,798.5 C1473.2,796.3 1479.5,794.0 1484.6,794.8 C1489.2,795.6 1493.1,799.1 1497.0,802.2 C1501.3,805.6 1505.6,808.8 1509.2,814.5 C1514.4,822.7 1516.6,838.0 1521.5,849.0 C1526.2,859.8 1532.8,869.2 1537.9,880.0 C1543.3,891.3 1548.7,904.3 1552.9,915.3 C1556.4,924.7 1558.9,932.2 1561.7,941.7 C1564.9,952.6 1567.6,965.2 1570.5,977.0 C1573.5,988.8 1576.2,1001.4 1579.4,1012.3 C1582.2,1021.8 1585.0,1030.7 1588.2,1038.7 C1591.0,1045.7 1594.0,1051.4 1597.0,1058.0 C1600.2,1065.1 1602.7,1072.4 1606.9,1080.0 C1611.8,1088.9 1619.1,1098.9 1625.4,1107.7 C1631.4,1116.1 1637.5,1124.2 1643.8,1131.7 C1649.8,1138.9 1656.0,1145.7 1662.3,1152.0 C1668.3,1158.0 1673.7,1163.4 1680.8,1168.6 C1688.8,1174.5 1700.0,1180.6 1708.4,1185.2 C1715.1,1188.9 1720.3,1191.8 1726.9,1194.5 C1734.1,1197.4 1741.2,1200.0 1750.0,1201.8 C1761.1,1204.1 1788.3,1205.5 1788.3,1205.5 C1788.3,1205.5 1788.3,1205.5 1788.3,1205.5 C1788.3,1205.5 1844.5,1209.2 1882.5,1210.3 C1940.4,1211.9 2028.8,1211.1 2102.0,1211.5" fill="none" stroke="#ED7D31" stroke-width="8.50" stroke-linejoin="round" stroke-linecap="butt"/>
<path d="M507.4,1219.4 C517.3,1219.4 537.0,1219.4 537.0,1219.4 C537.0,1219.4 544.3,1207.0 544.3,1207.0 C544.3,1207.0 551.0,1220.0 551.0,1220.0 C551.0,1220.0 630.0,1221.5 630.0,1221.5 C630.0,1221.5 640.3,1214.5 640.3,1214.5 C640.3,1214.5 650.0,1221.0 650.0,1221.0 C650.0,1221.0 680.5,1222.6 697.0,1220.6 C715.9,1218.3 739.4,1210.4 757.0,1206.5 C770.7,1203.5 781.6,1201.9 793.8,1199.0 C806.2,1196.1 818.5,1192.7 830.8,1189.2 C843.1,1185.7 856.6,1181.5 867.7,1178.2 C876.7,1175.5 883.9,1173.4 892.3,1170.8 C901.3,1168.1 910.2,1166.7 920.0,1162.2 C932.5,1156.5 949.6,1145.6 960.0,1137.3 C967.8,1131.1 972.1,1124.1 978.5,1118.8 C984.4,1113.9 990.9,1110.9 997.0,1106.4 C1003.3,1101.7 1009.4,1096.1 1015.6,1091.0 C1021.8,1085.9 1027.7,1080.3 1034.0,1075.6 C1040.1,1071.1 1045.4,1069.0 1052.6,1063.2 C1064.6,1053.7 1081.2,1033.6 1097.0,1021.2 C1112.5,1009.0 1131.5,1001.1 1146.2,989.2 C1160.0,978.0 1171.4,961.4 1183.0,952.3 C1191.6,945.6 1199.0,944.0 1207.7,937.5 C1219.2,928.8 1233.3,915.8 1244.6,903.0 C1256.3,889.7 1267.2,873.8 1276.6,858.8 C1285.6,844.5 1292.7,832.3 1300.0,815.0 C1309.7,792.2 1318.1,760.5 1326.6,732.5 C1335.4,703.7 1343.9,676.0 1351.8,644.6 C1360.8,609.1 1369.4,562.0 1376.9,530.0 C1382.4,506.7 1387.5,490.6 1391.9,470.0 C1396.5,448.3 1399.7,424.6 1403.8,402.9 C1407.7,382.4 1411.1,360.5 1415.7,343.3 C1419.3,329.8 1423.1,316.2 1427.6,307.6 C1430.5,302.0 1433.4,297.9 1437.0,295.0 C1439.9,292.6 1444.0,290.3 1446.7,290.5 C1448.8,290.7 1450.4,292.1 1452.0,294.0 C1454.5,296.9 1456.6,301.5 1458.6,307.6 C1462.3,318.5 1465.2,337.7 1468.1,355.2 C1471.6,376.6 1474.4,402.9 1477.6,426.7 C1480.8,450.5 1484.0,473.4 1487.1,498.1 C1490.4,524.8 1493.2,553.6 1496.7,581.4 C1500.2,609.2 1504.7,637.0 1508.2,664.8 C1511.7,692.6 1515.0,723.0 1517.7,748.1 C1519.9,768.9 1521.4,784.7 1523.5,805.0 C1526.0,828.3 1529.6,858.3 1531.7,880.0 C1533.3,896.6 1533.9,910.2 1535.3,924.1 C1536.6,936.5 1538.1,948.5 1539.7,959.4 C1541.1,968.9 1542.6,977.0 1544.1,985.8 C1545.6,994.6 1547.0,1003.5 1548.5,1012.3 C1550.0,1021.1 1551.4,1030.3 1552.9,1038.7 C1554.3,1046.4 1555.8,1053.7 1557.3,1060.8 C1558.7,1067.4 1559.9,1073.0 1561.7,1080.0 C1563.9,1088.4 1567.0,1098.7 1570.0,1107.7 C1572.9,1116.5 1576.1,1125.1 1579.2,1133.5 C1582.2,1141.7 1585.2,1150.1 1588.5,1157.5 C1591.4,1164.1 1593.5,1170.2 1597.7,1176.0 C1602.4,1182.6 1609.6,1189.4 1616.1,1194.5 C1622.0,1199.1 1628.3,1202.5 1634.6,1205.5 C1640.6,1208.3 1647.0,1210.7 1653.0,1212.0 C1658.5,1213.2 1662.9,1212.6 1669.2,1213.2 C1677.8,1214.1 1684.2,1216.0 1700.0,1217.0 C1752.2,1220.3 2038.0,1218.0 2038.0,1218.0 C2038.0,1218.0 2042.0,1210.0 2042.0,1210.0 C2042.0,1210.0 2046.0,1218.0 2046.0,1218.0 C2046.0,1218.0 2063.0,1218.0 2063.0,1218.0 C2063.0,1218.0 2066.0,1210.0 2066.0,1210.0 C2066.0,1210.0 2070.0,1218.0 2070.0,1218.0 C2070.0,1218.0 2091.3,1218.3 2102.0,1218.5" fill="none" stroke="#4472C4" stroke-width="8.50" stroke-linejoin="round" stroke-linecap="butt"/>
<path d="M674.8,2877.5 C682.2,2874.7 688.5,2870.7 697.0,2869.0 C707.6,2866.9 722.3,2869.1 733.8,2867.7 C744.3,2866.4 756.3,2863.6 763.4,2861.5 C767.6,2860.3 769.2,2858.9 773.2,2857.8 C779.0,2856.2 787.8,2855.6 795.4,2854.2 C803.4,2852.7 813.4,2851.8 820.0,2849.2 C825.0,2847.3 827.5,2843.1 832.3,2841.8 C837.9,2840.2 846.8,2843.7 852.0,2841.8 C856.2,2840.2 858.0,2835.9 861.8,2833.2 C866.1,2830.1 871.3,2826.8 876.6,2824.6 C882.0,2822.3 888.6,2821.7 893.8,2819.7 C898.4,2817.9 901.5,2816.2 906.2,2813.5 C913.1,2809.5 922.6,2802.6 930.8,2797.5 C939.0,2792.4 947.3,2788.1 955.4,2782.8 C963.7,2777.4 971.8,2771.4 980.0,2765.5 C988.2,2759.5 996.5,2750.9 1004.6,2747.0 C1011.2,2743.9 1019.0,2745.8 1024.3,2742.2 C1029.7,2738.5 1032.0,2729.3 1036.6,2725.0 C1040.4,2721.5 1044.8,2718.0 1048.9,2717.5 C1052.6,2717.1 1056.2,2721.2 1060.0,2721.2 C1063.9,2721.2 1068.1,2720.0 1072.0,2717.2 C1077.9,2713.0 1082.7,2700.9 1089.2,2695.0 C1095.1,2689.7 1103.5,2687.6 1109.0,2682.8 C1114.0,2678.5 1118.1,2673.4 1121.2,2668.0 C1124.2,2662.7 1124.5,2651.4 1127.4,2650.8 C1129.9,2650.3 1133.0,2660.3 1136.7,2661.0 C1140.4,2661.7 1145.1,2657.4 1149.5,2655.1 C1154.3,2652.6 1159.3,2648.9 1164.3,2646.3 C1169.2,2643.7 1173.9,2641.3 1179.1,2639.4 C1184.7,2637.4 1191.4,2636.5 1196.8,2634.5 C1201.5,2632.8 1205.6,2628.2 1209.6,2628.6 C1213.5,2629.0 1216.5,2636.0 1220.4,2636.4 C1224.4,2636.8 1228.7,2632.1 1233.2,2630.5 C1237.9,2628.8 1243.0,2627.8 1248.0,2626.6 C1252.9,2625.5 1257.9,2624.3 1262.8,2623.6 C1267.7,2622.9 1274.7,2621.8 1277.5,2622.6 C1278.8,2623.0 1278.9,2624.3 1280.0,2624.4 C1282.2,2624.6 1286.1,2621.5 1289.8,2619.4 C1294.9,2616.6 1302.5,2608.6 1307.6,2608.6 C1311.3,2608.6 1313.8,2613.8 1317.4,2614.5 C1321.0,2615.2 1325.7,2614.4 1329.2,2612.6 C1333.0,2610.7 1335.3,2605.8 1339.1,2602.7 C1343.4,2599.2 1349.0,2595.4 1353.8,2592.9 C1357.9,2590.7 1361.9,2589.6 1366.0,2588.0 C1370.1,2586.3 1374.7,2585.1 1378.5,2583.0 C1382.1,2581.1 1385.1,2578.8 1388.3,2576.1 C1391.7,2573.2 1394.9,2569.6 1398.2,2566.3 C1401.5,2563.0 1404.6,2559.3 1408.0,2556.4 C1411.2,2553.7 1414.4,2551.1 1417.8,2549.5 C1421.0,2548.0 1424.8,2547.5 1427.7,2546.6 C1429.9,2545.9 1432.1,2546.2 1433.6,2544.6 C1436.0,2542.1 1434.9,2534.0 1437.5,2530.0 C1440.1,2525.9 1445.2,2524.4 1449.5,2520.3 C1455.5,2514.6 1462.3,2504.5 1469.2,2498.2 C1475.5,2492.4 1483.5,2489.0 1489.0,2483.4 C1494.0,2478.2 1496.1,2470.3 1501.2,2466.2 C1506.0,2462.3 1514.8,2463.0 1518.5,2458.8 C1522.1,2454.7 1519.8,2446.3 1523.4,2441.5 C1527.4,2436.1 1538.3,2433.7 1543.0,2429.2 C1546.6,2425.8 1547.1,2419.6 1550.5,2418.2 C1553.8,2416.9 1558.5,2421.2 1562.8,2420.6 C1568.2,2419.9 1573.2,2413.9 1580.0,2412.0 C1588.8,2409.5 1604.1,2407.6 1612.0,2409.5 C1617.3,2410.8 1620.4,2414.6 1624.3,2417.0 C1627.8,2419.1 1631.5,2419.8 1634.2,2423.1 C1637.9,2427.7 1638.8,2435.9 1641.5,2444.0 C1645.2,2455.0 1649.9,2469.1 1653.8,2483.4 C1658.3,2499.9 1662.0,2519.7 1666.2,2537.5 C1670.3,2554.9 1675.2,2572.1 1678.5,2589.2 C1681.7,2605.8 1682.9,2622.1 1685.8,2638.5 C1688.7,2654.9 1692.2,2672.5 1695.7,2687.7 C1698.8,2700.9 1702.1,2712.8 1705.5,2724.6 C1708.7,2735.7 1712.2,2745.5 1715.4,2756.6 C1718.8,2768.4 1721.0,2784.2 1725.2,2793.5 C1728.0,2799.8 1731.9,2802.9 1735.0,2808.3 C1738.5,2814.3 1740.2,2822.7 1745.0,2828.0 C1750.0,2833.4 1758.9,2836.3 1764.6,2840.3 C1769.3,2843.6 1772.2,2847.8 1777.0,2850.2 C1782.0,2852.8 1789.3,2852.1 1794.2,2855.0 C1799.1,2857.9 1802.0,2865.4 1806.5,2867.4 C1810.3,2869.1 1813.9,2867.5 1818.6,2867.9 C1825.1,2868.5 1832.9,2870.2 1841.6,2871.0 C1852.8,2872.0 1868.0,2871.8 1880.0,2873.0 C1890.6,2874.1 1899.3,2876.6 1910.0,2877.5 C1922.3,2878.6 1932.8,2878.3 1950.0,2878.5 C1980.9,2878.9 2036.7,2878.5 2080.0,2878.5" fill="none" stroke="#000000" stroke-width="8.50" stroke-linejoin="round" stroke-linecap="butt"/>
<polyline points="674.8,2878.8 1166.0,2878.8 1173.0,2812.0 1180.0,2878.8 1683.0,2878.8 1690.8,2832.0 1698.5,2878.8 1720.0,2878.8" fill="none" stroke="#7030A0" stroke-width="8.50" stroke-linejoin="round" stroke-linecap="butt"/>
<polyline points="674.8,2878.8 1700.0,2878.8" fill="none" stroke="#002060" stroke-width="8.50" stroke-linejoin="round" stroke-linecap="butt"/>
<polyline points="674.8,2878.8 1640.0,2878.8" fill="none" stroke="#70AD47" stroke-width="8.50" stroke-linejoin="round" stroke-linecap="butt"/>
<polyline points="674.8,2878.8 680.6,2876.2 686.5,2877.5 692.5,2877.8 698.6,2878.0 705.1,2878.2 710.3,2877.9 714.6,2877.7 718.8,2876.9 726.7,2876.9 733.2,2878.0 737.8,2877.1 742.1,2878.2 746.8,2878.3 752.7,2878.1 758.5,2877.6 765.0,2877.3 771.0,2877.7 776.1,2868.0 784.1,2868.6 790.9,2870.7 795.9,2870.8 800.1,2874.6 805.7,2875.6 813.1,2869.0 818.0,2874.6 823.6,2869.5 830.1,2870.6 835.4,2875.0 842.4,2869.6 846.7,2875.7 851.4,2874.5 858.3,2876.0 864.9,2875.1 870.0,2875.3 877.2,2875.3 882.8,2872.1 889.3,2870.9 894.4,2872.6 899.7,2870.7 906.0,2876.1 912.4,2875.1 918.3,2875.0 925.8,2876.4 933.1,2875.7 937.8,2876.6 945.6,2871.1 952.1,2870.0 959.9,2876.4 966.7,2869.0 974.0,2872.5 979.2,2864.2 986.1,2859.1 991.0,2866.7 998.4,2872.7 1003.5,2868.4 1008.3,2855.5 1013.4,2858.0 1017.7,2863.0 1023.1,2871.9 1027.7,2866.6 1035.2,2856.0 1041.9,2859.8 1048.2,2868.3 1052.3,2865.9 1060.0,2854.0 1067.8,2855.3 1074.4,2870.5 1081.3,2861.6 1089.3,2848.6 1095.5,2863.6 1103.1,2871.7 1109.9,2858.4 1117.5,2852.7 1124.3,2870.5 1131.8,2865.6 1138.9,2853.9 1145.2,2857.6 1150.8,2869.4 1157.2,2864.8 1163.7,2856.1 1171.3,2858.3 1176.8,2870.4 1183.1,2867.0 1190.5,2849.7 1197.5,2854.6 1203.9,2856.7 1210.7,2857.0 1218.4,2871.6 1223.6,2859.5 1228.3,2862.7 1234.0,2862.5 1240.7,2852.8 1247.9,2862.8 1253.5,2858.2 1258.0,2857.0 1270.0,2856.0 1290.0,2858.0 1310.0,2862.0 1330.0,2866.0 1350.0,2867.0 1380.0,2870.0 1420.0,2876.0 1500.0,2877.5 1649.0,2877.5 1657.5,2802.0 1666.0,2877.8 1700.0,2878.3 1966.0,2878.3 1968.0,2871.5 1972.0,2871.5 1974.0,2878.3 1990.0,2878.3" fill="none" stroke="#FF0000" stroke-width="8.50" stroke-linejoin="round" stroke-linecap="butt"/>
<path d="M674.8,2878.5 C725.5,2878.3 785.5,2878.2 827.0,2878.0 C855.8,2877.9 871.7,2877.6 900.0,2877.5 C939.1,2877.3 1010.5,2878.3 1040.0,2877.2 C1053.7,2876.7 1059.1,2875.7 1070.0,2875.0 C1083.2,2874.1 1099.9,2873.4 1113.8,2872.3 C1126.4,2871.3 1137.8,2870.2 1150.0,2869.0 C1162.4,2867.8 1174.3,2866.4 1187.7,2865.0 C1203.0,2863.4 1221.9,2862.8 1237.0,2860.0 C1250.3,2857.6 1262.5,2851.9 1273.8,2850.2 C1283.2,2848.8 1291.0,2849.7 1300.0,2849.0 C1309.7,2848.3 1320.0,2846.6 1330.0,2846.0 C1340.0,2845.4 1349.3,2844.9 1360.0,2845.3 C1372.4,2845.7 1386.7,2847.8 1400.0,2849.0 C1413.3,2850.2 1429.6,2850.0 1440.0,2852.6 C1447.0,2854.4 1450.1,2857.8 1457.0,2860.0 C1466.8,2863.1 1480.6,2865.8 1493.8,2867.4 C1508.9,2869.3 1529.5,2868.1 1543.0,2869.8 C1552.7,2871.0 1557.2,2873.6 1567.7,2874.8 C1585.4,2876.9 1617.0,2876.9 1640.0,2877.5 C1660.9,2878.1 1680.0,2878.2 1700.0,2878.5" fill="none" stroke="#A5A5A5" stroke-width="8.50" stroke-linejoin="round" stroke-linecap="butt"/>
<path d="M674.8,2878.8 C694.5,2878.4 715.0,2878.2 733.8,2877.5 C750.9,2876.9 765.5,2875.8 783.0,2875.0 C802.9,2874.1 835.2,2876.7 847.0,2872.6 C852.2,2870.8 852.9,2867.0 857.0,2865.2 C862.2,2862.9 870.3,2861.4 876.6,2861.5 C882.5,2861.6 888.6,2865.8 893.8,2865.2 C898.4,2864.6 901.6,2860.2 906.2,2859.1 C911.3,2857.9 918.3,2861.4 923.4,2859.1 C929.2,2856.4 931.6,2844.4 938.2,2841.8 C945.8,2838.9 959.8,2848.5 967.7,2845.5 C975.1,2842.7 977.9,2829.9 985.0,2825.8 C991.9,2821.8 1001.3,2822.8 1009.5,2821.0 C1017.7,2819.2 1028.1,2818.0 1034.2,2814.8 C1038.6,2812.5 1040.5,2806.8 1044.0,2806.2 C1047.4,2805.7 1051.6,2811.8 1054.8,2810.8 C1058.7,2809.6 1058.9,2800.0 1064.6,2796.0 C1074.2,2789.2 1100.2,2786.8 1113.8,2783.7 C1123.4,2781.5 1133.7,2782.8 1138.5,2778.8 C1142.0,2775.9 1139.7,2769.4 1143.4,2766.5 C1149.1,2761.9 1167.7,2765.8 1175.4,2761.5 C1181.3,2758.2 1182.3,2750.7 1187.7,2746.8 C1194.1,2742.2 1203.2,2740.0 1212.3,2737.0 C1223.3,2733.3 1242.0,2733.7 1249.2,2727.0 C1254.8,2721.7 1252.2,2710.4 1256.6,2705.0 C1260.7,2700.0 1269.6,2698.1 1273.8,2695.0 C1276.5,2693.0 1277.3,2691.1 1280.0,2689.4 C1283.7,2687.1 1290.1,2686.5 1294.8,2683.5 C1300.0,2680.2 1304.8,2674.9 1309.5,2669.7 C1314.7,2663.9 1319.2,2656.2 1324.3,2650.0 C1329.1,2644.1 1333.5,2638.3 1339.1,2633.2 C1345.0,2627.8 1353.6,2623.5 1358.8,2618.5 C1362.9,2614.6 1365.4,2610.9 1368.6,2606.6 C1372.0,2602.0 1375.0,2596.3 1378.5,2591.9 C1381.6,2587.9 1385.1,2584.7 1388.3,2581.0 C1391.6,2577.2 1394.7,2572.6 1398.2,2569.2 C1401.3,2566.2 1404.6,2563.6 1408.0,2561.4 C1411.2,2559.4 1414.2,2558.1 1417.8,2556.4 C1422.2,2554.4 1427.1,2552.8 1432.6,2550.5 C1439.7,2547.5 1450.6,2538.8 1457.0,2540.0 C1462.2,2541.0 1464.3,2550.3 1469.2,2552.3 C1474.1,2554.3 1481.8,2549.5 1486.5,2552.3 C1492.2,2555.6 1493.9,2568.5 1498.8,2574.5 C1503.1,2579.7 1509.6,2581.2 1513.5,2586.8 C1518.3,2593.6 1519.7,2605.1 1523.4,2613.8 C1527.1,2622.3 1531.6,2630.3 1535.7,2638.5 C1539.8,2646.7 1544.4,2653.2 1548.0,2663.0 C1553.0,2676.4 1555.4,2698.9 1560.3,2712.3 C1563.9,2722.2 1568.3,2730.4 1572.6,2737.0 C1575.8,2742.0 1579.3,2743.7 1582.5,2749.2 C1587.6,2757.9 1590.9,2776.7 1597.2,2786.2 C1602.1,2793.7 1609.2,2797.3 1614.5,2803.4 C1619.8,2809.6 1624.2,2816.1 1629.2,2823.1 C1634.8,2830.8 1640.0,2840.9 1646.5,2847.7 C1652.4,2853.8 1660.2,2857.7 1666.2,2862.5 C1671.5,2866.7 1676.5,2872.1 1681.0,2874.8 C1684.2,2876.7 1687.0,2877.3 1690.0,2878.5" fill="none" stroke="#ED7D31" stroke-width="8.50" stroke-linejoin="round" stroke-linecap="butt"/>
<path d="M674.8,2878.8 C686.3,2877.1 698.2,2876.2 709.2,2873.8 C719.5,2871.6 728.6,2866.4 738.8,2865.2 C749.2,2863.9 759.8,2867.4 770.8,2866.5 C782.7,2865.6 796.6,2861.3 807.7,2859.1 C816.7,2857.3 824.1,2855.6 832.3,2854.2 C840.5,2852.8 848.8,2852.1 857.0,2850.5 C865.2,2848.8 873.3,2846.2 881.5,2844.3 C889.7,2842.5 898.0,2841.2 906.2,2839.4 C914.4,2837.5 922.7,2835.6 930.8,2833.2 C939.1,2830.7 947.1,2827.1 955.4,2824.6 C963.5,2822.2 973.5,2821.9 980.0,2818.5 C985.2,2815.7 987.2,2809.9 992.3,2807.4 C998.3,2804.5 1009.0,2806.8 1014.5,2803.7 C1019.0,2801.2 1020.9,2793.0 1024.3,2792.6 C1027.4,2792.3 1030.3,2798.9 1034.2,2800.0 C1038.4,2801.2 1044.7,2801.0 1048.9,2798.8 C1053.5,2796.4 1056.8,2787.1 1060.0,2785.0 C1061.7,2783.9 1062.3,2784.4 1064.6,2783.7 C1072.3,2781.3 1100.3,2772.2 1113.8,2766.5 C1123.6,2762.4 1130.3,2758.3 1138.5,2754.2 C1146.7,2750.1 1154.7,2745.5 1163.0,2741.8 C1171.1,2738.1 1179.6,2736.0 1187.7,2732.0 C1196.1,2727.9 1203.9,2721.3 1212.3,2717.2 C1220.4,2713.2 1229.2,2710.4 1237.0,2707.4 C1243.9,2704.7 1250.6,2703.6 1256.6,2700.0 C1262.9,2696.3 1267.4,2690.2 1273.8,2685.2 C1281.2,2679.5 1290.7,2674.9 1298.5,2668.0 C1307.1,2660.4 1314.9,2650.2 1323.0,2640.9 C1331.3,2631.4 1339.8,2622.0 1347.7,2611.4 C1356.2,2600.0 1363.5,2585.2 1372.3,2574.5 C1380.1,2565.0 1389.0,2555.8 1397.0,2549.8 C1403.1,2545.2 1409.1,2542.0 1415.0,2540.0 C1420.0,2538.3 1425.5,2536.8 1429.8,2537.5 C1433.5,2538.1 1436.7,2539.3 1439.7,2542.5 C1444.7,2547.9 1447.2,2562.3 1452.0,2572.0 C1457.0,2582.0 1464.4,2590.8 1469.2,2601.5 C1474.3,2612.9 1477.6,2625.2 1481.5,2638.5 C1485.9,2653.7 1489.4,2672.6 1493.8,2687.7 C1497.7,2701.0 1501.9,2712.8 1506.2,2724.6 C1510.2,2735.7 1514.3,2746.2 1518.5,2756.6 C1522.5,2766.7 1526.5,2776.9 1530.8,2786.2 C1534.7,2794.8 1538.6,2803.5 1543.0,2810.8 C1546.9,2817.2 1550.2,2822.2 1555.4,2828.0 C1561.9,2835.3 1571.4,2844.3 1580.0,2850.2 C1587.9,2855.6 1596.3,2859.2 1604.6,2862.5 C1612.7,2865.7 1622.6,2866.9 1629.2,2869.8 C1634.2,2872.0 1636.8,2875.7 1641.5,2877.2 C1646.9,2878.9 1660.0,2878.4 1660.0,2878.4 C1660.0,2878.4 1800.0,2878.5 1800.0,2878.5 C1800.0,2878.5 2038.0,2878.5 2038.0,2878.5 C2038.0,2878.5 2039.0,2856.0 2039.0,2856.0 C2039.0,2856.0 2045.5,2856.0 2045.5,2856.0 C2045.5,2856.0 2046.5,2878.5 2046.5,2878.5 C2046.5,2878.5 2070.0,2878.5 2081.8,2878.5" fill="none" stroke="#4472C4" stroke-width="8.50" stroke-linejoin="round" stroke-linecap="butt"/>
<polygon points="1093.5,139.8 1208.9,22.8 1208.9,79.6 1665.7,79.6 1665.7,196.9 1208.9,196.9 1208.9,255.2" fill="#D6E3F3"/>
<text x="1233.30" y="167.40" font-family='"Liberation Sans", Arial, sans-serif' font-weight="bold" font-size="81.45" textLength="429.46" lengthAdjust="spacingAndGlyphs" fill="#000">ΔT = 165 °C</text>
<text x="34.63" y="155.80" font-family='"Liberation Serif", "Times New Roman", serif' font-weight="normal" font-size="119.89" textLength="135.03" lengthAdjust="spacingAndGlyphs" fill="#000">(a)</text>
<text x="398.00" y="1245.50" font-family='"Liberation Sans", Arial, sans-serif' font-weight="bold" font-size="71.52" textLength="39.96" lengthAdjust="spacingAndGlyphs" fill="#000">0</text>
<text x="318.08" y="1064.35" font-family='"Liberation Sans", Arial, sans-serif' font-weight="bold" font-size="71.52" textLength="119.87" lengthAdjust="spacingAndGlyphs" fill="#000">200</text>
<text x="318.08" y="883.20" font-family='"Liberation Sans", Arial, sans-serif' font-weight="bold" font-size="71.52" textLength="119.87" lengthAdjust="spacingAndGlyphs" fill="#000">400</text>
<text x="318.08" y="702.05" font-family='"Liberation Sans", Arial, sans-serif' font-weight="bold" font-size="71.52" textLength="119.87" lengthAdjust="spacingAndGlyphs" fill="#000">600</text>
<text x="318.08" y="520.90" font-family='"Liberation Sans", Arial, sans-serif' font-weight="bold" font-size="71.52" textLength="119.87" lengthAdjust="spacingAndGlyphs" fill="#000">800</text>
<text x="278.21" y="339.75" font-family='"Liberation Sans", Arial, sans-serif' font-weight="bold" font-size="71.52" textLength="159.82" lengthAdjust="spacingAndGlyphs" fill="#000">1000</text>
<text x="278.21" y="158.60" font-family='"Liberation Sans", Arial, sans-serif' font-weight="bold" font-size="71.52" textLength="159.82" lengthAdjust="spacingAndGlyphs" fill="#000">1200</text>
<text x="450.03" y="1347.90" font-family='"Liberation Sans", Arial, sans-serif' font-weight="bold" font-size="71.10" textLength="119.41" lengthAdjust="spacingAndGlyphs" fill="#000">150</text>
<text x="628.11" y="1347.90" font-family='"Liberation Sans", Arial, sans-serif' font-weight="bold" font-size="71.10" textLength="119.41" lengthAdjust="spacingAndGlyphs" fill="#000">200</text>
<text x="805.21" y="1347.90" font-family='"Liberation Sans", Arial, sans-serif' font-weight="bold" font-size="71.10" textLength="119.41" lengthAdjust="spacingAndGlyphs" fill="#000">250</text>
<text x="982.76" y="1347.90" font-family='"Liberation Sans", Arial, sans-serif' font-weight="bold" font-size="71.10" textLength="119.41" lengthAdjust="spacingAndGlyphs" fill="#000">300</text>
<text x="1159.86" y="1347.90" font-family='"Liberation Sans", Arial, sans-serif' font-weight="bold" font-size="71.10" textLength="119.41" lengthAdjust="spacingAndGlyphs" fill="#000">350</text>
<text x="1337.23" y="1347.90" font-family='"Liberation Sans", Arial, sans-serif' font-weight="bold" font-size="71.10" textLength="119.41" lengthAdjust="spacingAndGlyphs" fill="#000">400</text>
<text x="1514.33" y="1347.90" font-family='"Liberation Sans", Arial, sans-serif' font-weight="bold" font-size="71.10" textLength="119.41" lengthAdjust="spacingAndGlyphs" fill="#000">450</text>
<text x="1690.89" y="1347.90" font-family='"Liberation Sans", Arial, sans-serif' font-weight="bold" font-size="71.10" textLength="119.41" lengthAdjust="spacingAndGlyphs" fill="#000">500</text>
<text x="1867.99" y="1347.90" font-family='"Liberation Sans", Arial, sans-serif' font-weight="bold" font-size="71.10" textLength="119.41" lengthAdjust="spacingAndGlyphs" fill="#000">550</text>
<text x="2044.82" y="1347.90" font-family='"Liberation Sans", Arial, sans-serif' font-weight="bold" font-size="71.10" textLength="119.41" lengthAdjust="spacingAndGlyphs" fill="#000">600</text>
<text x="1028.31" y="1465.00" font-family='"Liberation Sans", Arial, sans-serif' font-weight="bold" font-size="72.73" textLength="557.12" lengthAdjust="spacingAndGlyphs" fill="#000">Temperature (°C)</text>
<text x="-2.49" y="0.00" font-family='"Liberation Sans", Arial, sans-serif' font-weight="bold" font-size="72.73" textLength="93.44" lengthAdjust="spacingAndGlyphs" fill="#000" transform="translate(251.60 1027.60) rotate(-90)">CO</text>
<text x="-1.58" y="0.00" font-family='"Liberation Sans", Arial, sans-serif' font-weight="bold" font-size="48.62" textLength="25.13" lengthAdjust="spacingAndGlyphs" fill="#000" transform="translate(267.60 933.00) rotate(-90)">2</text>
<text x="-2.75" y="0.00" font-family='"Liberation Sans", Arial, sans-serif' font-weight="bold" font-size="70.90" textLength="665.25" lengthAdjust="spacingAndGlyphs" fill="#000" transform="translate(251.60 888.90) rotate(-90)">concentration (ppm)</text>
<rect x="1782.80" y="167.40" width="135.10" height="9.40" fill="#000000"/>
<text x="1925.70" y="192.90" font-family='"Liberation Sans", Arial, sans-serif' font-weight="bold" font-size="59.05" textLength="71.94" lengthAdjust="spacingAndGlyphs" fill="#000">R1</text>
<rect x="1782.80" y="287.20" width="135.10" height="9.40" fill="#7030A0"/>
<text x="1925.70" y="312.60" font-family='"Liberation Sans", Arial, sans-serif' font-weight="bold" font-size="59.05" textLength="71.94" lengthAdjust="spacingAndGlyphs" fill="#000">R2</text>
<rect x="1782.80" y="406.80" width="135.10" height="9.40" fill="#264478"/>
<text x="1928.09" y="429.00" font-family='"Liberation Sans", Arial, sans-serif' font-weight="bold" font-size="59.05" textLength="206.34" lengthAdjust="spacingAndGlyphs" fill="#000">Ag-AH1</text>
<rect x="1782.80" y="523.60" width="135.10" height="9.40" fill="#70AD47"/>
<text x="1928.09" y="548.10" font-family='"Liberation Sans", Arial, sans-serif' font-weight="bold" font-size="59.05" textLength="206.34" lengthAdjust="spacingAndGlyphs" fill="#000">Ag-AH3</text>
<rect x="1782.80" y="643.30" width="135.10" height="9.40" fill="#FF0000"/>
<text x="1928.09" y="668.60" font-family='"Liberation Sans", Arial, sans-serif' font-weight="bold" font-size="59.05" textLength="187.58" lengthAdjust="spacingAndGlyphs" fill="#000">Ag-AlP</text>
<rect x="1782.80" y="762.80" width="135.10" height="9.40" fill="#A5A5A5"/>
<text x="1928.09" y="785.00" font-family='"Liberation Sans", Arial, sans-serif' font-weight="bold" font-size="59.05" textLength="221.95" lengthAdjust="spacingAndGlyphs" fill="#000">Ag-WG1</text>
<rect x="1782.80" y="880.00" width="135.10" height="9.40" fill="#ED7D31"/>
<text x="1928.09" y="904.70" font-family='"Liberation Sans", Arial, sans-serif' font-weight="bold" font-size="59.05" textLength="221.95" lengthAdjust="spacingAndGlyphs" fill="#000">Ag-WG2</text>
<rect x="1782.80" y="999.10" width="135.10" height="9.40" fill="#4472C4"/>
<text x="1928.09" y="1021.10" font-family='"Liberation Sans", Arial, sans-serif' font-weight="bold" font-size="59.05" textLength="221.95" lengthAdjust="spacingAndGlyphs" fill="#000">Ag-WG3</text>
<text x="148.31" y="1643.80" font-family='"Liberation Sans", Arial, sans-serif' font-weight="normal" font-size="111.31" textLength="138.66" lengthAdjust="spacingAndGlyphs" fill="#000">(b)</text>
<text x="392.82" y="2902.00" font-family='"Liberation Sans", Arial, sans-serif' font-weight="bold" font-size="70.67" textLength="40.69" lengthAdjust="spacingAndGlyphs" fill="#000">0</text>
<text x="352.22" y="2793.25" font-family='"Liberation Sans", Arial, sans-serif' font-weight="bold" font-size="70.67" textLength="81.38" lengthAdjust="spacingAndGlyphs" fill="#000">10</text>
<text x="352.22" y="2684.50" font-family='"Liberation Sans", Arial, sans-serif' font-weight="bold" font-size="70.67" textLength="81.38" lengthAdjust="spacingAndGlyphs" fill="#000">20</text>
<text x="352.22" y="2575.75" font-family='"Liberation Sans", Arial, sans-serif' font-weight="bold" font-size="70.67" textLength="81.38" lengthAdjust="spacingAndGlyphs" fill="#000">30</text>
<text x="352.22" y="2467.00" font-family='"Liberation Sans", Arial, sans-serif' font-weight="bold" font-size="70.67" textLength="81.38" lengthAdjust="spacingAndGlyphs" fill="#000">40</text>
<text x="352.22" y="2358.25" font-family='"Liberation Sans", Arial, sans-serif' font-weight="bold" font-size="70.67" textLength="81.38" lengthAdjust="spacingAndGlyphs" fill="#000">50</text>
<text x="352.22" y="2249.50" font-family='"Liberation Sans", Arial, sans-serif' font-weight="bold" font-size="70.67" textLength="81.38" lengthAdjust="spacingAndGlyphs" fill="#000">60</text>
<text x="352.22" y="2140.75" font-family='"Liberation Sans", Arial, sans-serif' font-weight="bold" font-size="70.67" textLength="81.38" lengthAdjust="spacingAndGlyphs" fill="#000">70</text>
<text x="352.22" y="2032.00" font-family='"Liberation Sans", Arial, sans-serif' font-weight="bold" font-size="70.67" textLength="81.38" lengthAdjust="spacingAndGlyphs" fill="#000">80</text>
<text x="352.22" y="1923.25" font-family='"Liberation Sans", Arial, sans-serif' font-weight="bold" font-size="70.67" textLength="81.38" lengthAdjust="spacingAndGlyphs" fill="#000">90</text>
<text x="311.43" y="1814.50" font-family='"Liberation Sans", Arial, sans-serif' font-weight="bold" font-size="70.67" textLength="122.07" lengthAdjust="spacingAndGlyphs" fill="#000">100</text>
<text x="443.87" y="3002.00" font-family='"Liberation Sans", Arial, sans-serif' font-weight="bold" font-size="69.96" textLength="119.73" lengthAdjust="spacingAndGlyphs" fill="#000">150</text>
<text x="620.21" y="3002.00" font-family='"Liberation Sans", Arial, sans-serif' font-weight="bold" font-size="69.96" textLength="119.73" lengthAdjust="spacingAndGlyphs" fill="#000">200</text>
<text x="795.56" y="3002.00" font-family='"Liberation Sans", Arial, sans-serif' font-weight="bold" font-size="69.96" textLength="119.73" lengthAdjust="spacingAndGlyphs" fill="#000">250</text>
<text x="971.37" y="3002.00" font-family='"Liberation Sans", Arial, sans-serif' font-weight="bold" font-size="69.96" textLength="119.73" lengthAdjust="spacingAndGlyphs" fill="#000">300</text>
<text x="1146.72" y="3002.00" font-family='"Liberation Sans", Arial, sans-serif' font-weight="bold" font-size="69.96" textLength="119.73" lengthAdjust="spacingAndGlyphs" fill="#000">350</text>
<text x="1322.35" y="3002.00" font-family='"Liberation Sans", Arial, sans-serif' font-weight="bold" font-size="69.96" textLength="119.73" lengthAdjust="spacingAndGlyphs" fill="#000">400</text>
<text x="1497.70" y="3002.00" font-family='"Liberation Sans", Arial, sans-serif' font-weight="bold" font-size="69.96" textLength="119.73" lengthAdjust="spacingAndGlyphs" fill="#000">450</text>
<text x="1672.52" y="3002.00" font-family='"Liberation Sans", Arial, sans-serif' font-weight="bold" font-size="69.96" textLength="119.73" lengthAdjust="spacingAndGlyphs" fill="#000">500</text>
<text x="1847.88" y="3002.00" font-family='"Liberation Sans", Arial, sans-serif' font-weight="bold" font-size="69.96" textLength="119.73" lengthAdjust="spacingAndGlyphs" fill="#000">550</text>
<text x="2022.96" y="3002.00" font-family='"Liberation Sans", Arial, sans-serif' font-weight="bold" font-size="69.96" textLength="119.73" lengthAdjust="spacingAndGlyphs" fill="#000">600</text>
<text x="1011.51" y="3119.40" font-family='"Liberation Sans", Arial, sans-serif' font-weight="bold" font-size="74.91" textLength="557.53" lengthAdjust="spacingAndGlyphs" fill="#000">Temperature (°C)</text>
<text x="-2.71" y="0.00" font-family='"Liberation Sans", Arial, sans-serif' font-weight="bold" font-size="72.73" textLength="776.38" lengthAdjust="spacingAndGlyphs" fill="#000" transform="translate(270.20 2721.90) rotate(-90)">CO concentration (ppm)</text>
<rect x="1830.00" y="1862.50" width="135.30" height="9.60" fill="#000000"/>
<text x="1971.99" y="1887.90" font-family='"Liberation Sans", Arial, sans-serif' font-weight="bold" font-size="59.64" textLength="72.23" lengthAdjust="spacingAndGlyphs" fill="#000">R1</text>
<rect x="1830.00" y="1985.80" width="135.30" height="9.60" fill="#7030A0"/>
<text x="1971.99" y="2011.20" font-family='"Liberation Sans", Arial, sans-serif' font-weight="bold" font-size="59.64" textLength="72.23" lengthAdjust="spacingAndGlyphs" fill="#000">R2</text>
<rect x="1830.00" y="2109.10" width="135.30" height="9.60" fill="#002060"/>
<text x="1974.39" y="2134.50" font-family='"Liberation Sans", Arial, sans-serif' font-weight="bold" font-size="59.64" textLength="207.16" lengthAdjust="spacingAndGlyphs" fill="#000">Ag-AH1</text>
<rect x="1830.00" y="2232.40" width="135.30" height="9.60" fill="#70AD47"/>
<text x="1974.39" y="2257.80" font-family='"Liberation Sans", Arial, sans-serif' font-weight="bold" font-size="59.64" textLength="207.16" lengthAdjust="spacingAndGlyphs" fill="#000">Ag-AH3</text>
<rect x="1830.00" y="2355.70" width="135.30" height="9.60" fill="#FF0000"/>
<text x="1974.39" y="2381.10" font-family='"Liberation Sans", Arial, sans-serif' font-weight="bold" font-size="59.64" textLength="188.31" lengthAdjust="spacingAndGlyphs" fill="#000">Ag-AlP</text>
<rect x="1830.00" y="2479.00" width="135.30" height="9.60" fill="#A5A5A5"/>
<text x="1974.39" y="2504.40" font-family='"Liberation Sans", Arial, sans-serif' font-weight="bold" font-size="59.64" textLength="222.83" lengthAdjust="spacingAndGlyphs" fill="#000">Ag-WG1</text>
<rect x="1830.00" y="2602.30" width="135.30" height="9.60" fill="#ED7D31"/>
<text x="1974.39" y="2627.70" font-family='"Liberation Sans", Arial, sans-serif' font-weight="bold" font-size="59.64" textLength="222.83" lengthAdjust="spacingAndGlyphs" fill="#000">Ag-WG2</text>
<rect x="1830.00" y="2725.60" width="135.30" height="9.60" fill="#4472C4"/>
<text x="1974.39" y="2751.00" font-family='"Liberation Sans", Arial, sans-serif' font-weight="bold" font-size="59.64" textLength="222.83" lengthAdjust="spacingAndGlyphs" fill="#000">Ag-WG3</text>
<text x="1363.99" y="2325.00" font-family='"Liberation Sans", Arial, sans-serif' font-weight="bold" font-size="63.13" textLength="446.60" lengthAdjust="spacingAndGlyphs" fill="#000">Soot reference</text>
<text x="0.00" y="0.00" font-family='"Liberation Sans", Arial, sans-serif' font-weight="bold" font-size="65.45" textLength="346.56" lengthAdjust="spacingAndGlyphs" fill="#FF0000" transform="translate(935.70 2481.80) rotate(-22.5)">Water-glass</text>
<text x="-4.15" y="89.00" font-family='"Liberation Sans", Arial, sans-serif' font-weight="bold" font-size="65.45" textLength="195.00" lengthAdjust="spacingAndGlyphs" fill="#FF0000" transform="translate(935.70 2481.80) rotate(-22.5)">binder</text>
<line x1="1128.90" y1="2522.80" x2="1232.70" y2="2688.60" stroke="#FF0000" stroke-width="2.60" stroke-linecap="butt"/>
<polygon points="1216.2,2698.4 1249.2,2678.7 1252.4,2721.5" fill="#FF0000"/>
</svg>
</body></html>
